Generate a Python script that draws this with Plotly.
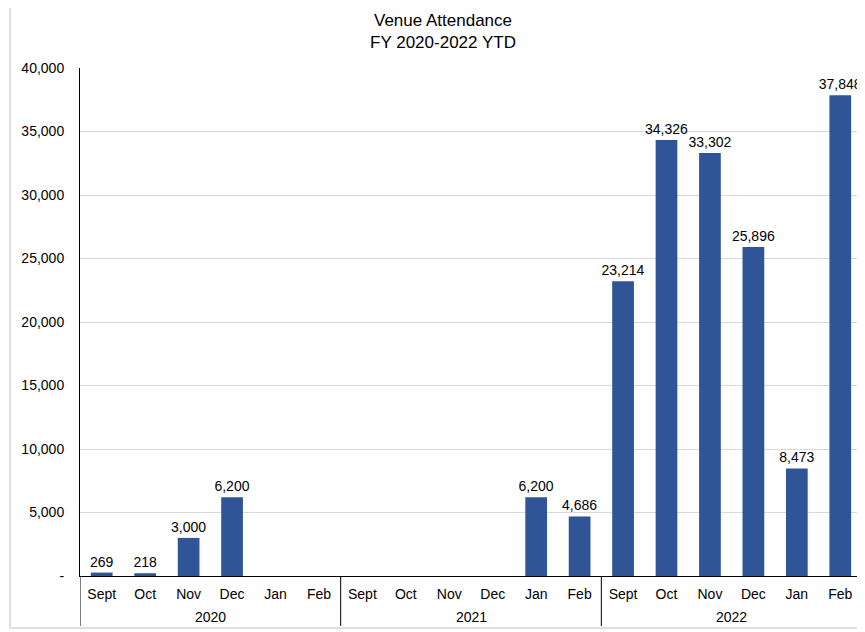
import plotly.graph_objects as go

years = ["2020", "2021", "2022"]
month_names = ["Sept", "Oct", "Nov", "Dec", "Jan", "Feb"]
months = month_names * 3
attendance = [269, 218, 3000, 6200, None, None,
              None, None, None, None, 6200, 4686,
              23214, 34326, 33302, 25896, 8473, 37848]
ytick_vals = [0, 5000, 10000, 15000, 20000, 25000, 30000, 35000, 40000]
ytick_text = ["-", "5,000", "10,000", "15,000", "20,000", "25,000", "30,000", "35,000", "40,000"]

labels = [f"{v:,}" if v is not None else "" for v in attendance]
xpos = list(range(len(months)))
n_per = len(month_names)

# Page has an 8px body margin; compensate so the plot lands where the reference has it.
OFF = 8
PW, PH = 865, 632
W, H = PW - OFF, PH - OFF
PL, PR, PT, PB = 80, 862, 68, 576  # plot area in page pixels
L, R, T, B = PL - OFF, PW - PR, PT - OFF, PH - PB

def px2x(x):
    return (x - PL) / (PR - PL)

def px2y(y):
    return (PB - y) / (PB - PT)

FONT = "Liberation Sans, Arial, Helvetica, sans-serif"
FS = 14

fig = go.Figure(go.Bar(
    x=xpos, y=attendance,
    marker=dict(color="#2F5597", line=dict(width=0)),
    text=labels, textposition="outside", cliponaxis=False,
    constraintext="none",
    textfont=dict(family=FONT, size=FS, color="#000"),
    width=0.5,
))

annotations = []
shapes = []
for i, yr in enumerate(years):
    annotations.append(dict(
        x=i * n_per + (n_per - 1) / 2, xref="x", y=px2y(617), yref="paper",
        text=yr, showarrow=False, xanchor="center", yanchor="middle",
        font=dict(family=FONT, size=FS, color="#000")))
    shapes.append(dict(
        type="line", xref="x", yref="paper",
        x0=i * n_per - 0.5, x1=i * n_per - 0.5, y0=0, y1=px2y(626),
        line=dict(color="#000", width=1)))

# light gray frame of the original screenshot
shapes.append(dict(type="line", xref="paper", yref="paper",
                   x0=px2x(10), x1=px2x(10), y0=px2y(628), y1=px2y(0),
                   line=dict(color="#d4d4d4", width=1.5)))
shapes.append(dict(type="line", xref="paper", yref="paper",
                   x0=px2x(10), x1=px2x(870), y0=px2y(628), y1=px2y(628),
                   line=dict(color="#d4d4d4", width=1.5)))

fig.update_layout(
    width=W, height=H,
    margin=dict(l=L, r=R, t=T, b=B, autoexpand=False),
    paper_bgcolor="white", plot_bgcolor="white",
    font=dict(family=FONT, size=FS, color="#000"),
    title=dict(text="Venue Attendance<br>FY 2020-2022 YTD", x=(443 - OFF) / W, xanchor="center",
               xref="container", y=1 - 18 / H, yanchor="top",
               font=dict(family=FONT, size=17, color="#000")),
    showlegend=False,
    xaxis=dict(range=[-0.5, len(months) - 0.5], tickvals=xpos, ticktext=months,
               showline=True, linecolor="#000", linewidth=1,
               showgrid=False, zeroline=False,
               ticks="outside", ticklen=5, tickcolor="rgba(0,0,0,0)",
               tickfont=dict(size=FS)),
    yaxis=dict(range=[0, 40000], tickvals=ytick_vals, ticktext=ytick_text,
               showline=True, linecolor="#000", linewidth=1,
               gridcolor="#d9d9d9", gridwidth=1, zeroline=False,
               ticks="outside", ticklen=12, tickcolor="rgba(0,0,0,0)",
               tickfont=dict(size=FS)),
    annotations=annotations,
    shapes=shapes,
)

fig.write_html("out.html")
